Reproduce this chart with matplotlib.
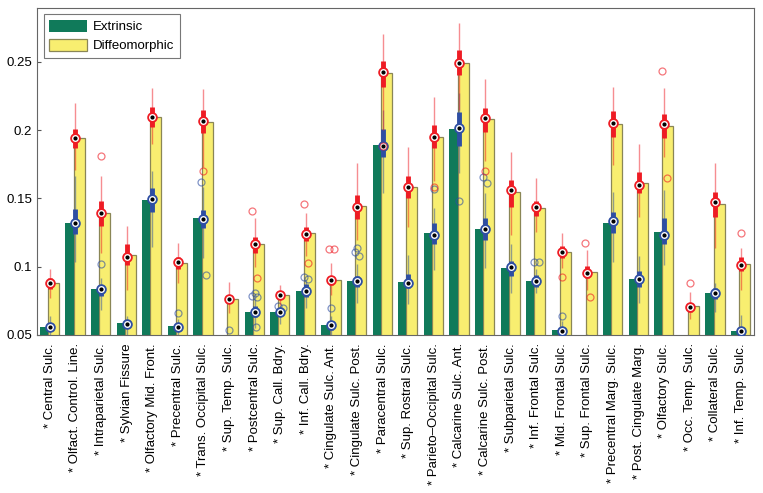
import matplotlib.pyplot as plt
import numpy as np

plt.rcParams['font.family'] = ['Liberation Sans', 'DejaVu Sans']

labels = ['* Central Sulc.', '* Olfact. Control. Line.', '* Intraparietal Sulc.',
          '* Sylvian Fissure', '* Olfactory Mid. Front.', '* Precentral Sulc.',
          '* Trans. Occipital Sulc.', '* Sup. Temp. Sulc.', '* Postcentral Sulc.',
          '* Sup. Call. Bdry.', '* Inf. Call. Bdry.', '* Cingulate Sulc. Ant.',
          '* Cingulate Sulc. Post.', '* Paracentral Sulc.', '* Sup. Rostral Sulc.',
          '* Parieto\u2013Occipital Sulc.', '* Calcarine Sulc. Ant.',
          '* Calcarine Sulc. Post.', '* Subparietal Sulc.', '* Inf. Frontal Sulc.',
          '* Mid. Frontal Sulc.', '* Sup. Frontal Sulc.', '* Precentral Marg. Sulc.',
          '* Post. Cingulate Marg.', '* Olfactory Sulc.', '* Occ. Temp. Sulc.',
          '* Collateral Sulc.', '* Inf. Temp. Sulc.']

# bar heights
ext_bar = [0.0556, 0.1322, 0.0834, 0.059, 0.1488, 0.0566, 0.1354, 0.045, 0.067, 0.0666,
           0.0824, 0.0573, 0.0895, 0.189, 0.0886, 0.1244, 0.2005, 0.1273, 0.0993, 0.0897,
           0.0537, 0.045, 0.1322, 0.091, 0.1251, 0.045, 0.0805, 0.0532]
dif_bar = [0.0878, 0.194, 0.139, 0.1085, 0.2093, 0.103, 0.2061, 0.0763, 0.1164, 0.0793,
           0.1244, 0.0902, 0.1444, 0.2415, 0.1585, 0.1946, 0.2493, 0.208, 0.1544, 0.1427,
           0.1105, 0.0959, 0.2044, 0.1615, 0.203, 0.0712, 0.1459, 0.102]

# extrinsic box stats
ext_med = [0.056, 0.132, 0.0834, 0.0583, 0.1493, 0.056, 0.135, 0.044, 0.067, 0.067,
           0.0824, 0.057, 0.0895, 0.1885, 0.088, 0.1232, 0.2012, 0.1273, 0.100, 0.0897,
           0.0532, 0.044, 0.1334, 0.0907, 0.1232, 0.044, 0.0805, 0.053]
ext_q1 = [0.053, 0.1237, 0.0785, 0.0556, 0.1402, 0.053, 0.1285, 0.041, 0.063, 0.064,
          0.078, 0.054, 0.0849, 0.1805, 0.0842, 0.1164, 0.1883, 0.1195, 0.0932, 0.085,
          0.050, 0.041, 0.1244, 0.0854, 0.1166, 0.041, 0.0761, 0.050]
ext_q3 = [0.059, 0.142, 0.0866, 0.0605, 0.1574, 0.059, 0.1415, 0.047, 0.071, 0.070,
          0.087, 0.060, 0.0932, 0.2007, 0.0944, 0.1322, 0.213, 0.1354, 0.1042, 0.094,
          0.056, 0.047, 0.1402, 0.0968, 0.1354, 0.047, 0.0842, 0.056]
ext_lo = [0.048, 0.1037, 0.068, 0.050, 0.1146, 0.047, 0.106, 0.035, 0.055, 0.058,
          0.070, 0.050, 0.0732, 0.1537, 0.073, 0.0976, 0.1683, 0.0988, 0.0805, 0.0805,
          0.046, 0.035, 0.1037, 0.0732, 0.1012, 0.035, 0.067, 0.046]
ext_hi = [0.064, 0.166, 0.092, 0.064, 0.170, 0.062, 0.158, 0.050, 0.076, 0.071,
          0.090, 0.064, 0.102, 0.215, 0.1085, 0.143, 0.227, 0.1537, 0.1164, 0.098,
          0.060, 0.051, 0.155, 0.1078, 0.1561, 0.050, 0.088, 0.0646]
ext_out = [[], [], [0.102], [], [], [0.066], [0.162, 0.0939], [0.0537],
           [0.0805, 0.0785, 0.0776, 0.056], [0.0715, 0.0695], [0.0922, 0.0908], [0.0695],
           [0.1134, 0.111, 0.1078], [], [], [0.1566], [0.148], [0.1654, 0.1615], [],
           [0.1035, 0.1032], [0.0641], [], [], [], [], [], [], []]

# diffeomorphic box stats
dif_med = [0.0878, 0.194, 0.139, 0.1073, 0.2098, 0.1032, 0.2068, 0.0763, 0.1164, 0.0793,
           0.124, 0.0902, 0.1439, 0.2427, 0.158, 0.1951, 0.2493, 0.209, 0.1561, 0.1439,
           0.1105, 0.0956, 0.2049, 0.1598, 0.2041, 0.0702, 0.1471, 0.1012]
dif_q1 = [0.084, 0.1866, 0.130, 0.1012, 0.2024, 0.098, 0.1976, 0.0732, 0.1098, 0.0765,
          0.119, 0.0866, 0.1349, 0.2317, 0.150, 0.1866, 0.2403, 0.1988, 0.1439, 0.1371,
          0.1061, 0.0915, 0.1951, 0.1542, 0.1944, 0.067, 0.1366, 0.097]
dif_q3 = [0.092, 0.2005, 0.148, 0.1166, 0.217, 0.107, 0.2147, 0.0793, 0.1215, 0.0825,
          0.129, 0.0932, 0.1525, 0.2507, 0.1666, 0.2037, 0.2586, 0.2164, 0.1634, 0.148,
          0.1151, 0.1007, 0.2139, 0.1695, 0.2115, 0.0737, 0.1549, 0.1069]
dif_lo = [0.077, 0.1707, 0.110, 0.083, 0.190, 0.088, 0.173, 0.066, 0.100, 0.072,
          0.108, 0.079, 0.1195, 0.200, 0.129, 0.163, 0.215, 0.177, 0.123, 0.1256,
          0.099, 0.083, 0.1744, 0.1366, 0.1805, 0.062, 0.1134, 0.083]
dif_hi = [0.098, 0.220, 0.1664, 0.130, 0.2305, 0.117, 0.230, 0.089, 0.1354, 0.0866,
          0.139, 0.103, 0.176, 0.2703, 0.1878, 0.2244, 0.2786, 0.2371, 0.1837, 0.1647,
          0.1244, 0.1122, 0.2312, 0.1896, 0.2305, 0.0817, 0.1756, 0.1134]
dif_out = [[], [], [0.181], [], [], [], [0.170], [], [0.141, 0.092], [], [0.1459, 0.103],
           [0.1129, 0.1129], [], [0.188], [], [0.158], [], [0.170], [], [], [0.0927],
           [0.117, 0.078], [], [], [0.2434, 0.1651], [0.0878], [], [0.1249]]

green = '#107a5a'
yellow = '#f8ee70'
red = '#ee1c24'
blue = '#2e4ea3'

fig = plt.figure(figsize=(7.63, 4.93), dpi=100)
ax = fig.add_axes([0.0485, 0.3205, 0.9395, 0.6625])

x = np.arange(1, len(labels) + 1)
ax.bar(x + 0.145, dif_bar, width=0.43, color=yellow, edgecolor='#8a8656',
       linewidth=0.9, label='Diffeomorphic', zorder=1)
ax.bar(x - 0.23, ext_bar, width=0.32, color=green, linewidth=0,
       label='Extrinsic', zorder=2)

jitter = [0.0, -0.09, 0.09, 0.04]


def draw_boxes(med, q1, q3, lo, hi, outs, col, z):
    # whiskers and outliers are semi-transparent, boxes and medians solid
    ax.vlines(x, lo, hi, color=col, lw=1.0, alpha=0.5, zorder=z)
    for i, vals in enumerate(outs):
        if not vals:
            continue
        jit = [-0.09, 0.09] if len(vals) == 2 else jitter[:len(vals)]
        ax.plot(x[i] + np.array(jit), vals, 'o', ms=5, mfc='none', mec=col,
                mew=0.9, alpha=0.6, zorder=z)
    ax.vlines(x, q1, q3, color=col, lw=3.5, zorder=z + 0.1)
    ax.plot(x, med, 'o', ms=6.3, mfc='white', mec=col, mew=1.3, zorder=z + 0.2)
    ax.plot(x, med, 'o', ms=2, color='k', zorder=z + 0.3)


draw_boxes(ext_med, ext_q1, ext_q3, ext_lo, ext_hi, ext_out, blue, 3)
draw_boxes(dif_med, dif_q1, dif_q3, dif_lo, dif_hi, dif_out, red, 4)

ax.set_xlim(0.5, len(labels) + 0.5)
ax.set_ylim(0.05, 0.289)
ax.set_yticks([0.05, 0.1, 0.15, 0.2, 0.25])
ax.set_yticklabels(['0.05', '0.1', '0.15', '0.2', '0.25'])
ax.set_xticks(x)
ax.set_xticklabels(labels, rotation=90, ha='center', va='top')
ax.tick_params(axis='x', length=0, pad=6, labelsize=9.5)
ax.tick_params(axis='y', direction='in', length=3, labelsize=9.5, color='#555555')
for s in ax.spines.values():
    s.set_color('#666666')
    s.set_linewidth(0.8)

h, l = ax.get_legend_handles_labels()
leg = ax.legend(h[::-1], l[::-1], loc='upper left', bbox_to_anchor=(0.0095, 0.982),
                fontsize=9.5, fancybox=False, framealpha=1, edgecolor='#777777',
                handlelength=2.9, handleheight=1.05, borderpad=0.4,
                labelspacing=0.42, handletextpad=0.45, borderaxespad=0)
leg.get_frame().set_linewidth(0.8)

plt.savefig('out.png', dpi=100)
